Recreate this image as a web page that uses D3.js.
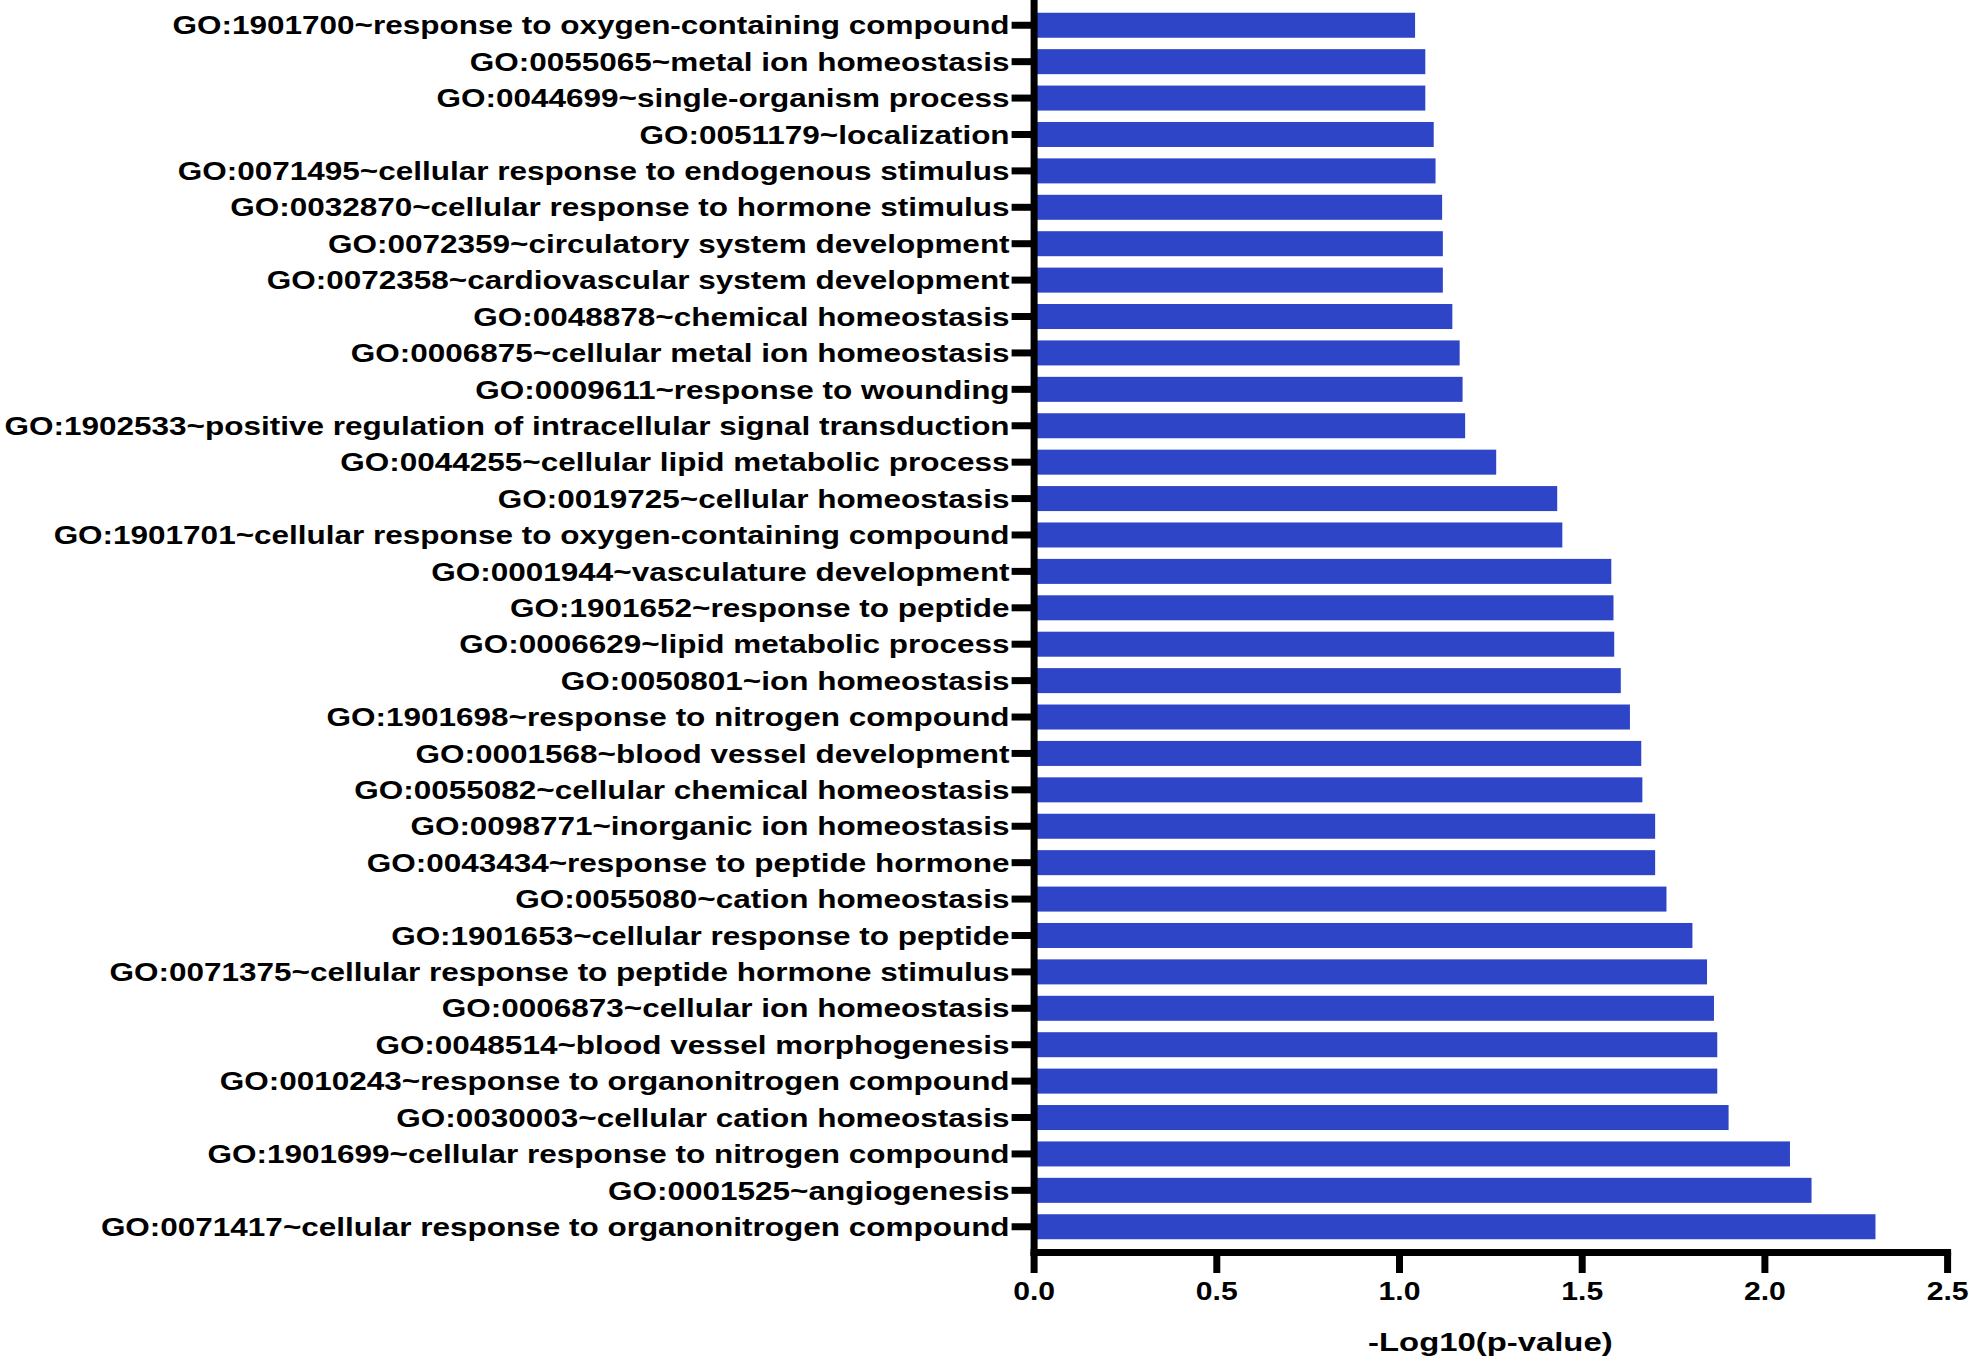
<!DOCTYPE html>
<html>
<head>
<meta charset="utf-8">
<script src="https://d3js.org/d3.v7.min.js"></script>
<style>
  body { margin: 0; background: #fff; }
  text { font-family: "Liberation Sans", Arial, sans-serif; font-weight: bold; fill: #000; }
</style>
</head>
<body>
<script>
// GO terms, top to bottom as in the figure
var goTerms = [
  "GO:1901700~response to oxygen-containing compound",
  "GO:0055065~metal ion homeostasis",
  "GO:0044699~single-organism process",
  "GO:0051179~localization",
  "GO:0071495~cellular response to endogenous stimulus",
  "GO:0032870~cellular response to hormone stimulus",
  "GO:0072359~circulatory system development",
  "GO:0072358~cardiovascular system development",
  "GO:0048878~chemical homeostasis",
  "GO:0006875~cellular metal ion homeostasis",
  "GO:0009611~response to wounding",
  "GO:1902533~positive regulation of intracellular signal transduction",
  "GO:0044255~cellular lipid metabolic process",
  "GO:0019725~cellular homeostasis",
  "GO:1901701~cellular response to oxygen-containing compound",
  "GO:0001944~vasculature development",
  "GO:1901652~response to peptide",
  "GO:0006629~lipid metabolic process",
  "GO:0050801~ion homeostasis",
  "GO:1901698~response to nitrogen compound",
  "GO:0001568~blood vessel development",
  "GO:0055082~cellular chemical homeostasis",
  "GO:0098771~inorganic ion homeostasis",
  "GO:0043434~response to peptide hormone",
  "GO:0055080~cation homeostasis",
  "GO:1901653~cellular response to peptide",
  "GO:0071375~cellular response to peptide hormone stimulus",
  "GO:0006873~cellular ion homeostasis",
  "GO:0048514~blood vessel morphogenesis",
  "GO:0010243~response to organonitrogen compound",
  "GO:0030003~cellular cation homeostasis",
  "GO:1901699~cellular response to nitrogen compound",
  "GO:0001525~angiogenesis",
  "GO:0071417~cellular response to organonitrogen compound"
];

// -log10(p-value)
var logP = [
  1.044, 1.072, 1.072, 1.095, 1.100, 1.118, 1.120, 1.120, 1.146, 1.166,
  1.174, 1.181, 1.266, 1.433, 1.447, 1.581, 1.587, 1.589, 1.607, 1.632,
  1.663, 1.666, 1.701, 1.701, 1.732, 1.803, 1.843, 1.862, 1.871, 1.871,
  1.902, 2.070, 2.129, 2.304
];

var xTicks = [ 0, 0.5, 1.0, 1.5, 2.0, 2.5 ];
var xTitle = "-Log10(p-value)";

var W = 1969, H = 1361;
var left = 1033.6, axisY = 1252;

var svg = d3.select( "body" ).append( "svg" )
  .attr( "width", W )
  .attr( "height", H );

var x = d3.scaleLinear()
  .domain( [ 0, 2.5 ] )
  .range( [ 0, 913.5 ] );

var y = d3.scaleBand()
  .domain( goTerms )
  .range( [ 0, axisY ] )
  .paddingInner( 0.313 )
  .paddingOuter( 0.35 );

var plot = svg.append( "g" )
  .attr( "transform", "translate(" + left + ",0)" );

// bars
plot.selectAll( "rect" )
  .data( logP )
  .enter().append( "rect" )
  .attr( "x", x( 0 ) )
  .attr( "y", function ( d, i ) { return y( goTerms[ i ] ); } )
  .attr( "width", function ( d ) { return x( d ) - x( 0 ); } )
  .attr( "height", y.bandwidth() )
  .attr( "fill", "#2f45c7" );

// y axis (labels stretched a bit wider, like the original)
var yAxis = plot.append( "g" )
  .call( d3.axisLeft( y ).tickSize( 22 ).tickSizeOuter( 0 ) );

yAxis.selectAll( "text" )
  .attr( "x", 0 )
  .attr( "dy", "0.36em" )
  .attr( "transform", "translate(-24,0) scale(1.235,1)" )
  .style( "font-size", "25.5px" );

// x axis
var xAxis = plot.append( "g" )
  .attr( "transform", "translate(0," + axisY + ")" )
  .call( d3.axisBottom( x )
    .tickValues( xTicks )
    .tickFormat( d3.format( ".1f" ) )
    .tickSize( 21 )
    .tickSizeOuter( 0 )
    .tickPadding( 9 ) );

xAxis.selectAll( "text" )
  .attr( "transform", "scale(1.16,1)" )
  .style( "font-size", "26px" );

svg.selectAll( ".domain" )
  .attr( "stroke", "#000" )
  .attr( "stroke-width", 7 )
  .attr( "stroke-linecap", "square" );

svg.selectAll( ".tick line" )
  .attr( "stroke", "#000" )
  .attr( "stroke-width", 7 );

// axis title
svg.append( "text" )
  .attr( "transform", "translate(" + ( left + x( 1.25 ) ) + ",1351) scale(1.24,1)" )
  .attr( "text-anchor", "middle" )
  .style( "font-size", "26.5px" )
  .text( xTitle );
</script>
</body>
</html>
